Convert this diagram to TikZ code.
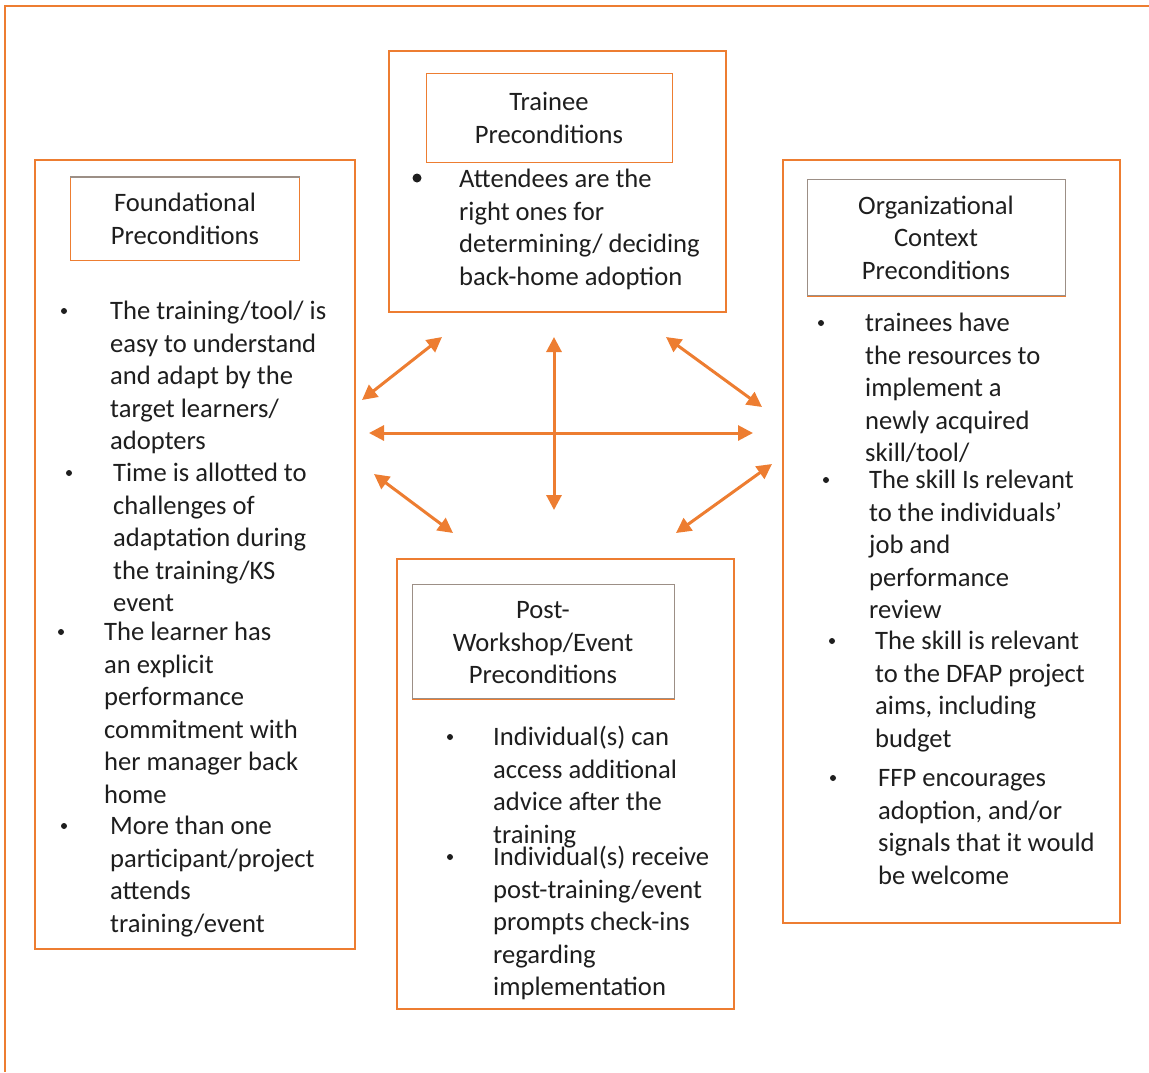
\documentclass[tikz,border=0pt]{standalone}
\usepackage{fontspec}
\setmainfont{Carlito}
\usetikzlibrary{arrows.meta}
\definecolor{org}{HTML}{ED7D31}
\definecolor{txt}{HTML}{1E1E1E}
\definecolor{gry}{HTML}{9C8F86}
\begin{document}
\begin{tikzpicture}[x=1pt,y=-1pt,
  box/.style={draw=org, line width=2.2pt, anchor=north west, inner sep=0pt},
  ttl/.style={line width=1.3pt, anchor=north west, inner sep=0pt},
  body/.style={anchor=north west, inner sep=0pt, align=left, font=\fontsize{26.6}{32.5}\selectfont, text=txt},
  head/.style={inner sep=0pt, align=center, font=\fontsize{26.6}{32.5}\selectfont, text=txt},
  bul/.style={circle, fill=txt, inner sep=0pt, minimum size=6pt},
  bigbul/.style={circle, fill=txt, inner sep=0pt, minimum size=9pt},
  arr/.style={draw=org, line width=3pt, {Triangle[length=15pt,width=15pt]}-{Triangle[length=15pt,width=15pt]}}]
\useasboundingbox (0,0) rectangle (1149,1072);
% outer frame
\draw[org, line width=1.6pt] (1149,6) -- (5,6) -- (5,1072);

% boxes
\node[box, minimum width=337pt, minimum height=261pt] (trainee) at (388,50) {};
\node[box, minimum width=320pt, minimum height=789pt] (found) at (34,159) {};
\node[box, minimum width=337pt, minimum height=763pt] (orgbox) at (782,159) {};
\node[box, minimum width=337pt, minimum height=450pt] (post) at (396,558) {};

% title boxes
\node[ttl, draw=org, minimum width=246pt, minimum height=89pt] (traineeT) at (426,73) {};
\node[ttl, draw=org, minimum width=229pt, minimum height=83pt] (foundT) at (70,177) {};
\draw[gry, line width=1.3pt] (foundT.north west) -- (foundT.north east);
\node[ttl, draw=gry, minimum width=258pt, minimum height=116pt] (orgT) at (807,179) {};
\draw[org, line width=1.3pt] (orgT.south west) -- (orgT.south east);
\node[ttl, draw=gry, minimum width=262pt, minimum height=114pt] (postT) at (412,584) {};
\draw[org, line width=1.3pt] (postT.south west) -- (postT.south east);

\node[head] (traineeH) at (549,118) {Trainee\\Preconditions};
\node[head] (foundH) at (185,219) {Foundational\\Preconditions};
\node[head] (orgH) at (936,237.5) {Organizational\\Context\\Preconditions};
\node[head] (postH) at (543,643) {Post-\\Workshop/Event\\Preconditions};

% trainee body
\node[bigbul] (tb1) at (417,178) {};
\node[body] (tt1) at (459,165) {\strut Attendees are the\\right ones for\\determining/ deciding\\back-home adoption};

% foundational body
\node[bul] (fb1) at (64,311) {};
\node[body] (ft1) at (110,297) {\strut The training/tool/ is\\easy to understand\\and adapt by the\\target learners/\\adopters};
\node[bul] (fb2) at (69,473) {};
\node[body] (ft2) at (113,459) {\strut Time is allotted to\\challenges of\\adaptation during\\the training/KS\\event};
\node[bul] (fb3) at (61,632) {};
\node[body] (ft3) at (104,618) {\strut The learner has\\an explicit\\performance\\commitment with\\her manager back\\home};
\node[bul] (fb4) at (64,826) {};
\node[body] (ft4) at (110,812) {\strut More than one\\participant/project\\attends\\training/event};

% organizational body
\node[bul] (ob1) at (821,323) {};
\node[body] (ot1) at (865,309) {\strut trainees have\\the resources to\\implement a\\newly acquired\\skill/tool/};
\node[bul] (ob2) at (826,480) {};
\node[body] (ot2) at (869,466) {\strut The skill Is relevant\\to the individuals’\\job and\\performance\\review};
\node[bul] (ob3) at (832,641) {};
\node[body] (ot3) at (875,627) {\strut The skill is relevant\\to the DFAP project\\aims, including\\budget};
\node[bul] (ob4) at (833,778) {};
\node[body] (ot4) at (878,764) {\strut FFP encourages\\adoption, and/or\\signals that it would\\be welcome};

% post body
\node[bul] (pb1) at (450,737) {};
\node[body] (pt1) at (493,723) {\strut Individual(s) can\\access additional\\advice after the\\training};
\node[bul] (pb2) at (450,857) {};
\node[body] (pt2) at (493,843) {\strut Individual(s) receive\\post-training/event\\prompts check-ins\\regarding\\implementation};

% arrows
\coordinate (a1s) at (362,400); \coordinate (a1e) at (442,337);
\coordinate (a2s) at (554,337); \coordinate (a2e) at (554,510);
\coordinate (a3s) at (369,433); \coordinate (a3e) at (753,433);
\coordinate (a4s) at (666,337); \coordinate (a4e) at (762,407);
\coordinate (a5s) at (374,474); \coordinate (a5e) at (453,533);
\coordinate (a6s) at (772,464); \coordinate (a6e) at (676,533);
\draw[arr] (a1s) -- (a1e);
\draw[arr] (a2s) -- (a2e);
\draw[arr] (a3s) -- (a3e);
\draw[arr] (a4s) -- (a4e);
\draw[arr] (a5s) -- (a5e);
\draw[arr] (a6s) -- (a6e);
\end{tikzpicture}
\end{document}
